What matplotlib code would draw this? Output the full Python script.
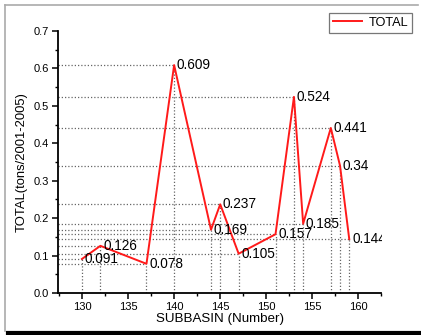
import matplotlib
matplotlib.use("Agg")
import matplotlib.pyplot as plt
from matplotlib.lines import Line2D
from matplotlib.ticker import MultipleLocator

plt.rcParams['font.family'] = ['Liberation Sans', 'DejaVu Sans']

# Sediment totals per subbasin
subbasins = [130, 132, 137, 140, 144, 145, 147, 151, 153, 154, 157, 158, 159]
totals = [0.091, 0.126, 0.078, 0.609, 0.169, 0.237, 0.105, 0.157, 0.524,
          0.185, 0.441, 0.34, 0.144]
value_labels = ["0.091", "0.126", "0.078", "0.609", "0.169", "0.237", "0.105",
                "0.157", "0.524", "0.185", "0.441", "0.34", "0.144"]

W, H = 421, 335
fig = plt.figure(figsize=(W / 100, H / 100), dpi=100)
ax = fig.add_axes([58 / W, 1 - 293 / H, (381.5 - 58) / W, (293 - 31) / H])

x_min, x_max = 127.4, 162.5
ax.set_xlim(x_min, x_max)
ax.set_ylim(0, 0.7)

# Drop lines from each point to both axes
for x, y in zip(subbasins, totals):
    ax.plot([x_min, x], [y, y], color='#666666', lw=0.9, ls=(0, (1, 1.6)), zorder=1)
    ax.plot([x, x], [0, y], color='#666666', lw=0.9, ls=(0, (1, 1.6)), zorder=1)

ax.plot(subbasins, totals, color='#ff1a1a', lw=1.4, zorder=3, label='TOTAL')

for x, y, t in zip(subbasins, totals, value_labels):
    ax.annotate(t, (x, y), xytext=(2, 0), textcoords='offset points',
                ha='left', va='center', fontsize=9.8, color='black',
                annotation_clip=False, clip_on=True, zorder=4)

for side in ('top', 'right'):
    ax.spines[side].set_visible(False)
for side in ('left', 'bottom'):
    ax.spines[side].set_linewidth(1.3)

ax.xaxis.set_major_locator(MultipleLocator(5))
ax.xaxis.set_minor_locator(MultipleLocator(2.5))
ax.yaxis.set_major_locator(MultipleLocator(0.1))
ax.yaxis.set_minor_locator(MultipleLocator(0.05))
ax.yaxis.set_major_formatter(matplotlib.ticker.FormatStrFormatter('%.1f'))
ax.tick_params(which='major', direction='out', length=4, width=1.1,
               labelsize=8, pad=2.5)
ax.tick_params(which='minor', direction='out', length=2, width=1.0)

ax.set_xlabel('SUBBASIN (Number)', fontsize=9.6, labelpad=1)
ax.set_ylabel('TOTAL(tons/2001-2005)', fontsize=9.4, labelpad=4)

leg = ax.legend(loc='upper right', bbox_to_anchor=(412 / W, 1 - 13 / H),
                bbox_transform=fig.transFigure, fontsize=9.2, frameon=True,
                fancybox=False, edgecolor='#555555', handlelength=2.3,
                handletextpad=0.5, borderpad=0.3, borderaxespad=0)
leg.get_frame().set_linewidth(0.9)

# Page frame around the figure
fig.add_artist(Line2D([5 / W, 418 / W], [1 - 5 / H, 1 - 5 / H],
                      transform=fig.transFigure, color='#aaaaaa', lw=1.2))
fig.add_artist(Line2D([5 / W, 5 / W], [1 - 5 / H, 1 - 331 / H],
                      transform=fig.transFigure, color='#aaaaaa', lw=1.2))
fig.add_artist(Line2D([8 / W, 1.0], [1 - 333 / H, 1 - 333 / H],
                      transform=fig.transFigure, color='black', lw=3))

fig.savefig('out.png', dpi=100)
